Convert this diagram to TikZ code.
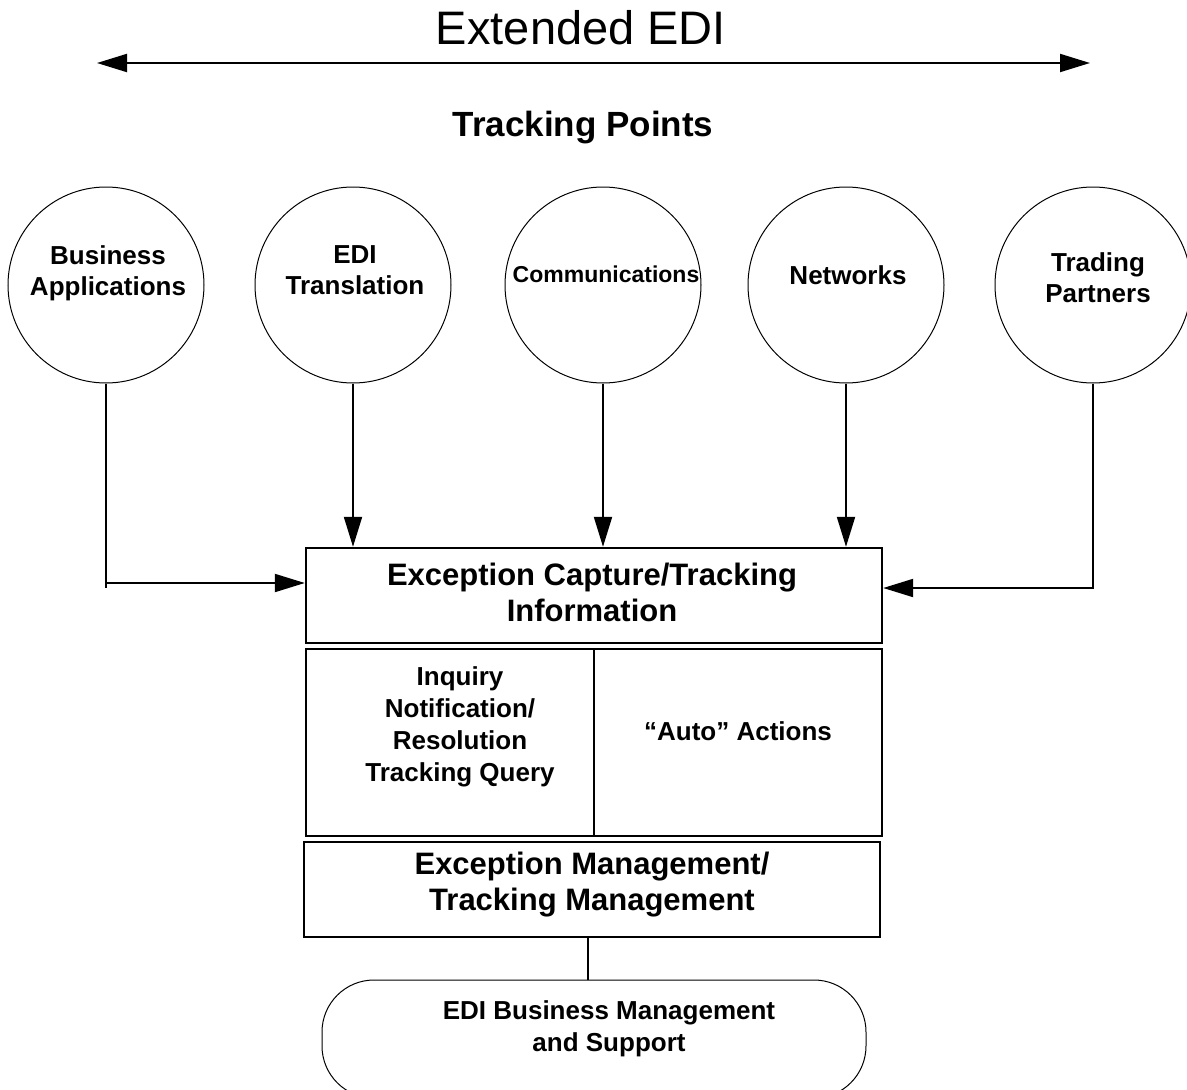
\documentclass[tikz,border=0pt]{standalone}
\usepackage{fontspec}
\setmainfont{Liberation Sans}
\usetikzlibrary{arrows.meta}
\begin{document}
\begin{tikzpicture}[x=1pt,y=-1pt,
  tp/.style={draw, circle, line width=1pt, minimum size=196pt, inner sep=0pt},
  ctext/.style={font=\bfseries\fontsize{26}{31}\selectfont, align=center, inner sep=0pt},
  boxnode/.style={draw, line width=2.4pt, inner sep=0pt},
  btext/.style={font=\bfseries\fontsize{31}{36}\selectfont, align=center, inner sep=0pt},
  stext/.style={font=\bfseries\fontsize{26}{32}\selectfont, align=center, inner sep=0pt},
  conn/.style={line width=2pt},
  arr/.style={line width=2pt, -{Triangle[length=30pt,width=18pt]}},
  darr/.style={line width=2pt, {Triangle[length=30pt,width=18pt]}-{Triangle[length=30pt,width=18pt]}}
]
\useasboundingbox (0,0) rectangle (1187,1090);

% title
\node[font=\fontsize{47}{50}\selectfont, inner sep=0pt] (title) at (581,28) {Extended EDI};
\coordinate (aL) at (97,63);
\coordinate (aR) at (1090,63);
\draw[darr] (aL) -- (aR);
\node[font=\bfseries\fontsize{35}{40}\selectfont, inner sep=0pt] (tp) at (583,128) {Tracking Points};

% circles
\node[tp] (c1) at (106,285) {};
\node[tp] (c2) at (353,285) {};
\node[tp] (c3) at (603,285) {};
\node[tp] (c4) at (846,285) {};
\node[tp] (c5) at (1093,285) {};
\node[ctext] (t1) at (108,273) {Business\\Applications};
\node[ctext] (t2) at (355,270) {EDI\\Translation};
\node[ctext, font=\bfseries\fontsize{23}{28}\selectfont] (t3) at (606,274) {Communications};
\node[ctext] (t4) at (848,275) {Networks};
\node[ctext] (t5) at (1098,278) {Trading\\Partners};

% boxes
\node[boxnode, minimum width=576pt, minimum height=95pt] (b1) at (594,595.5) {};
\node[btext] (b1t) at (592,592) {Exception Capture/Tracking\\Information};
\node[boxnode, minimum width=288pt, minimum height=187pt] (b2l) at (450,742.5) {};
\node[boxnode, minimum width=288pt, minimum height=187pt] (b2r) at (738,742.5) {};
\node[stext] (b2lt) at (460,727) {Inquiry\\Notification/\\Resolution\\Tracking Query};
\node[stext] (b2rt) at (738,731) {“Auto” Actions};
\node[boxnode, minimum width=576pt, minimum height=95pt] (b3) at (592,889.5) {};
\node[btext] (b3t) at (592,885) {Exception Management/\\Tracking Management};
\node[draw, line width=1pt, rounded corners=52pt, minimum width=544pt, minimum height=118pt, inner sep=0pt] (rb) at (594,1039) {};
\node[stext] (rbt) at (609,1029) {EDI Business Management\\and Support};

% connectors
\coordinate (j1) at (106,588);
\coordinate (j1h) at (106,583);
\draw[conn] (c1.south) -- (j1);
\draw[arr] (j1h) -- (j1h -| b1.west);
\draw[arr] (c2.south) -- (c2.south |- b1.north);
\draw[arr] (c3.south) -- (c3.south |- b1.north);
\draw[arr] (c4.south) -- (c4.south |- b1.north);
\coordinate (j5) at (1093,589);
\coordinate (j5h) at (1093,588);
\draw[conn] (c5.south) -- (j5);
\draw[arr] (j5h) -- (j5h -| b1.east);
\coordinate (m3) at (588,937);
\draw[conn] (b3.south -| m3) -- (rb.north -| m3);
\end{tikzpicture}
\end{document}
